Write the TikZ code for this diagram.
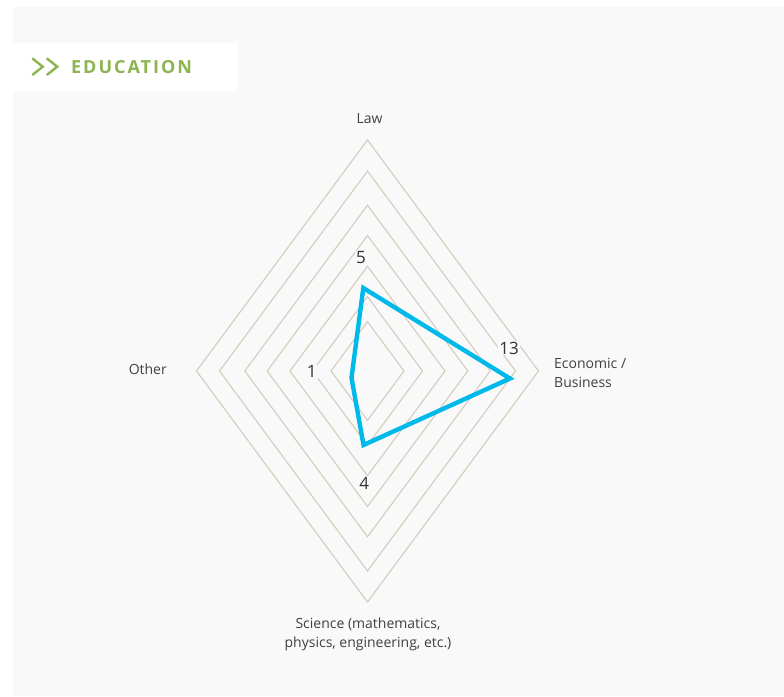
\documentclass[tikz,border=0pt]{standalone}
\usepackage{fontspec}
\setmainfont{Open Sans}
\definecolor{panel}{RGB}{248,249,248}
\definecolor{ringtan}{RGB}{212,200,184}
\definecolor{seriesblue}{RGB}{0,185,235}
\definecolor{headgreen}{RGB}{140,180,80}
\definecolor{labelgray}{RGB}{64,64,64}
\definecolor{valuegray}{RGB}{51,51,51}

\begin{document}
\begin{tikzpicture}[x=1pt,y=-1pt]
   \tikzstyle{ring}=[draw=ringtan, line width=1pt]
   \tikzstyle{axislabel}=[text=labelgray, font=\fontsize{14}{19}\selectfont, inner sep=0pt]
   \tikzstyle{value}=[text=valuegray, font=\fontsize{17}{20}\selectfont, fill=panel, inner sep=1pt]
   \tikzstyle{series}=[draw=seriesblue, line width=4.4pt, line join=miter]
   \tikzstyle{chevron}=[draw=headgreen, line width=2.4pt]

\useasboundingbox (0,0) rectangle (784,696);
\fill[panel] (13,7) rectangle (784,696);
\fill[white] (13,42.7) rectangle (237.7,90.7);

\draw[chevron] (32.3,58.3) -- (42.7,66.7) -- (32.3,75);
\draw[chevron] (46.7,58.3) -- (57.3,66.7) -- (46.7,75);
\node[anchor=west, inner sep=0pt, text=headgreen,
      font=\addfontfeatures{LetterSpace=11}\fontsize{18}{20}\bfseries\selectfont] (title) at (71,67) {EDUCATION};

\begin{scope}[shift={(367.5,371)}]
   \foreach \r in {36.5,55,77.5,100.3,122.7,148,171}
      \draw[ring] (\r,0) -- (0,1.351*\r) -- (-\r,0) -- (0,-1.351*\r) -- cycle;
\end{scope}

\coordinate (law) at (363.3,288);
\coordinate (econ) at (510,378.5);
\coordinate (science) at (363.5,445);
\coordinate (other) at (351.5,377.7);
\draw[series] (law) -- (econ) -- (science) -- (other) -- cycle;

\node[value] (vlaw) at (361,258) {5};
\node[value] (vother) at (311.7,371.7) {1};
\node[value] (vecon) at (509,348) {13};
\node[value] (vscience) at (364.3,483.3) {4};

\node[axislabel] (lawlabel) at (369.5,119) {Law};
\node[axislabel, anchor=east] (otherlabel) at (167,369) {Other};
\node[axislabel, anchor=west, align=left] (econlabel) at (554,373) {Economic /\\Business};
\node[axislabel, align=center] (sciencelabel) at (368,634) {Science (mathematics,\\physics, engineering, etc.)};

\end{tikzpicture}
\end{document}
